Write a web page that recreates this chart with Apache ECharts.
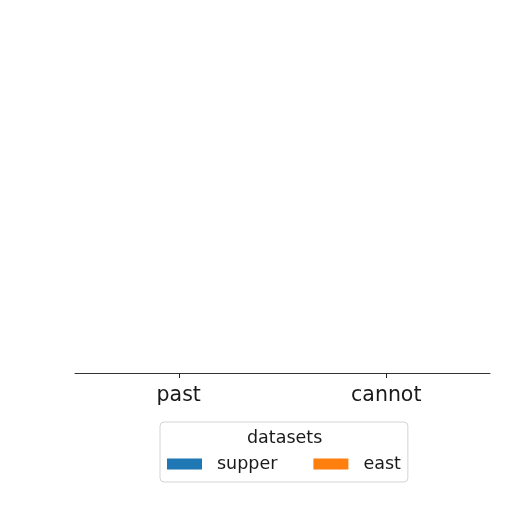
<!DOCTYPE html>
<html>
<head>
<meta charset="utf-8">
<script src="https://cdn.jsdelivr.net/npm/echarts@6/dist/echarts.min.js"></script>
<style>
  html, body { margin: 0; padding: 0; background: #fff; }
  #chart { width: 512px; height: 512px; }
</style>
</head>
<body>
<div id="chart"></div>
<script>
var categories = ["past", "cannot"];
var seriesNames = ["supper", "east"];
var supperValues = [0, 0];
var eastValues = [0, 0];
var colors = ["#1f77b4", "#ff7f0e"];

var myChart = echarts.init(document.getElementById("chart"));

var option = {
  backgroundColor: "#fff",
  animation: false,
  textStyle: { fontFamily: "DejaVu Sans" },
  color: colors,
  grid: { left: 75, right: 22, top: 20, bottom: 139 },
  xAxis: {
    type: "category",
    data: categories,
    axisLine: { lineStyle: { color: "#333", width: 1 } },
    axisTick: { show: true, alignWithLabel: true, length: 5, lineStyle: { color: "#222", width: 1 } },
    axisLabel: { fontSize: 20.5, color: "#1a1a1a", margin: 12, fontFamily: "DejaVu Sans" }
  },
  yAxis: {
    type: "value",
    min: 0,
    max: 1,
    show: false
  },
  legend: {
    data: seriesNames,
    orient: "horizontal",
    left: 160,
    top: 422,
    padding: [33, 7, 9, 7],
    itemWidth: 35,
    itemHeight: 11,
    itemGap: 36,
    icon: "rect",
    backgroundColor: "rgba(255,255,255,0.8)",
    borderColor: "#d4d4d4",
    borderWidth: 1,
    borderRadius: 4,
    textStyle: {
      fontSize: 17.5,
      color: "#1a1a1a",
      fontFamily: "DejaVu Sans",
      padding: [0, 0, 0, 10]
    }
  },
  graphic: [{
    type: "text",
    left: 247,
    top: 429,
    style: {
      text: "datasets",
      fontSize: 17.5,
      fontFamily: "DejaVu Sans",
      fill: "#1a1a1a"
    },
    z: 100
  }],
  series: [
    { name: seriesNames[0], type: "bar", data: supperValues, barGap: 0 },
    { name: seriesNames[1], type: "bar", data: eastValues, barGap: 0 }
  ]
};

myChart.setOption(option);
window.addEventListener("resize", function () {
  myChart.resize();
});
</script>
</body>
</html>
